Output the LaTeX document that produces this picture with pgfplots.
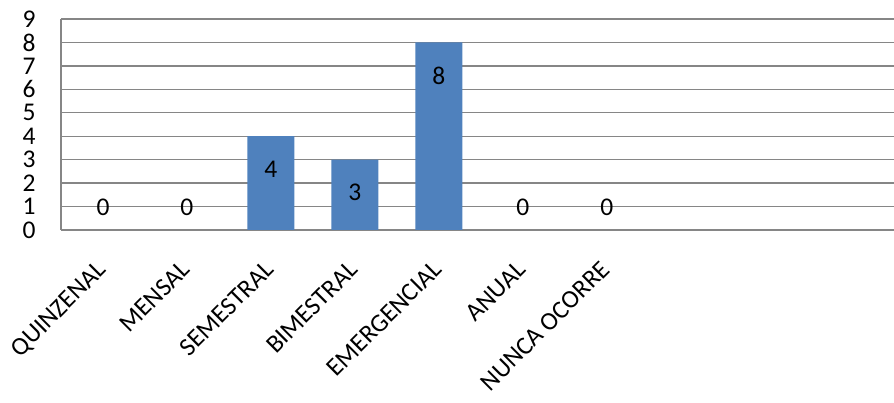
\documentclass[border=0pt]{standalone}
\usepackage{pgfplots}
\pgfplotsset{compat=1.18}
\usepackage{fontspec}
\setmainfont{Carlito}
\definecolor{barblue}{HTML}{4F81BD}
\definecolor{gridgray}{HTML}{868686}

\begin{document}
\begin{tikzpicture}
\begin{axis}[
  name=ax,
  scale only axis,
  width=833pt, height=211pt,
  xmin=-0.5, xmax=9.42,
  ymin=0, ymax=9,
  ytick={0,...,9},
  xtick={0,...,6},
  xticklabels={QUINZENAL, MENSAL, SEMESTRAL, BIMESTRAL, EMERGENCIAL, ANUAL, NUNCA OCORRE},
  axis x line*=bottom, axis y line*=left,
  x axis line style={draw=none},
  y axis line style={gridgray, line width=1.4pt, -},
  ymajorgrids,
  major grid style={gridgray, line width=1.4pt},
  major tick length=0pt,
  /pgf/number format/assume math mode=true,
  tick label style={font=\fontsize{25.5}{30}\selectfont},
  yticklabel style={anchor=east, xshift=-22pt},
  xticklabel style={rotate=45, anchor=north east, inner sep=0pt, yshift=-15.5pt, xshift=-26pt},
  clip=false,
]
% bars with their values inside the top end
\addplot[ybar, bar width=47pt, bar shift=0pt, fill=barblue, draw=none,
  nodes near coords,
  every node near coord/.append style={anchor=center, yshift=-33pt, font=\fontsize{25.5}{30}\selectfont, text=black}]
  coordinates {(2,4) (3,3) (4,8)};
% categories with no occurrences
\addplot[ybar, bar width=47pt, bar shift=0pt, draw=none, fill=none,
  nodes near coords,
  every node near coord/.append style={anchor=center, yshift=23pt, font=\fontsize{25.5}{30}\selectfont, text=black}]
  coordinates {(0,0) (1,0) (5,0) (6,0)};
\end{axis}
\pgfresetboundingbox
\path[use as bounding box] ([shift={(-61pt,-173pt)}]ax.south west) rectangle ++(894pt,403pt);
\end{tikzpicture}
\end{document}
